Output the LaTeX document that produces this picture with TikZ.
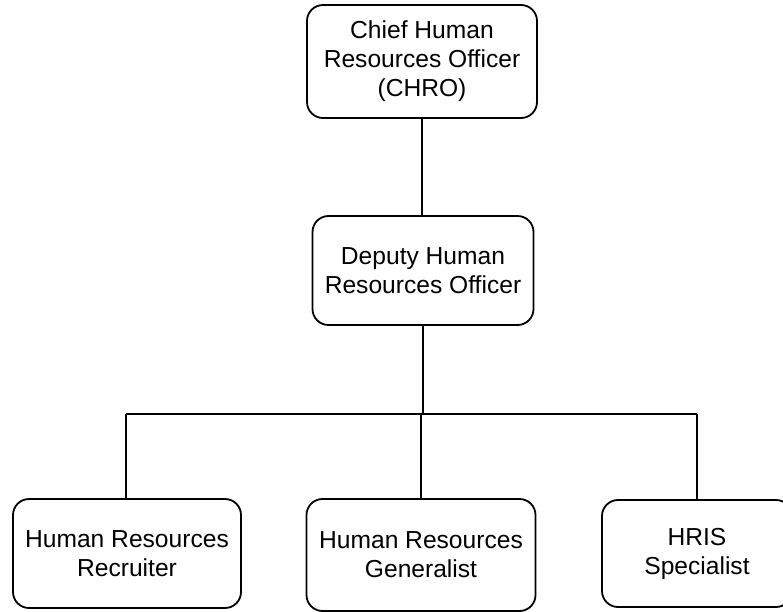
\documentclass[tikz,border=0pt]{standalone}
\usepackage{fontspec}
\setmainfont{Liberation Sans}
\begin{document}
\begin{tikzpicture}[x=1pt,y=-1pt,
  box/.style={draw=black, line width=1.8pt, rounded corners=16pt, fill=white,
    align=center, inner sep=0pt, font=\fontsize{24.6}{29}\selectfont},
  link/.style={draw=black, line width=1.8pt}]
\useasboundingbox (0,0) rectangle (783,611);
\fill[white] (0,0) rectangle (783,611);
\clip (0,0) rectangle (783,611);
\node[box, minimum width=230pt, minimum height=113pt] (chro) at (422,61.5)
  {Chief Human\\Resources Officer\\(CHRO)};
\node[box, minimum width=221pt, minimum height=109pt] (deputy) at (423,270.5)
  {Deputy Human\\Resources Officer};
\node[box, minimum width=228pt, minimum height=109pt] (recruiter) at (127,553.5)
  {Human Resources\\Recruiter};
\node[box, minimum width=229pt, minimum height=112pt] (generalist) at (421,555)
  {Human Resources\\Generalist};
\node[box, minimum width=190pt, minimum height=107pt] (hris) at (697,553.5)
  {HRIS\\Specialist};
\coordinate (busL) at (126,414);
\coordinate (busR) at (697,414);
\draw[link] (chro.south) -- (chro.south |- deputy.north);
\draw[link] (deputy.south) -- (deputy.south |- busL);
\draw[link] (busL) -- (busR);
\draw[link] (recruiter.north -| busL) -- (busL);
\draw[link] (generalist.north) -- (generalist.north |- busL);
\draw[link] (hris.north) -- (busR);
\end{tikzpicture}
\end{document}
